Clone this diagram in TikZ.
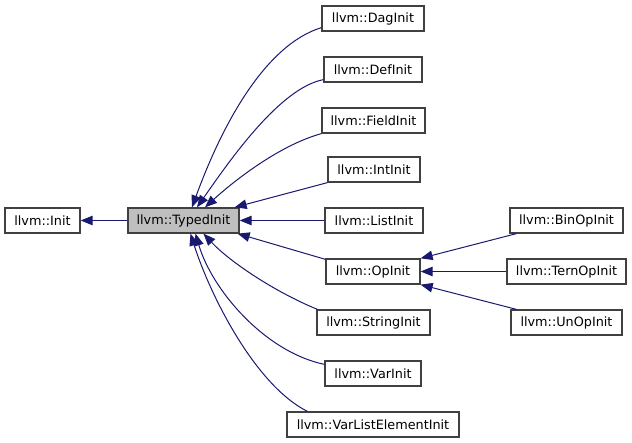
\documentclass[tikz,border=0pt]{standalone}
\usepackage{fontspec}
\setmainfont{DejaVu Sans}
\usetikzlibrary{arrows.meta}
\definecolor{edgeblue}{HTML}{191970}
\definecolor{boxline}{HTML}{404040}
\definecolor{curfill}{HTML}{BFBFBF}
\tikzset{
  cls/.style={draw=boxline, line width=1.3pt, fill=white, minimum height=25pt,
    inner sep=0pt, font=\fontsize{12.8}{15}\selectfont},
  cur/.style={cls, fill=curfill},
  inh/.style={draw=edgeblue, line width=1pt, -{Triangle[length=12pt,width=9.5pt]}}
}
\begin{document}
\begin{tikzpicture}[x=1pt,y=-1pt]
    \useasboundingbox (0,0) rectangle (632,443);

    \node[cls, minimum width=75pt] (init) at (42.5,220.5) {llvm::Init};
    \node[cur, minimum width=111pt] (typed) at (183.5,220.5) {llvm::TypedInit};

    \node[cls, minimum width=102pt] (dag) at (373,18.5) {llvm::DagInit};
    \node[cls, minimum width=98pt] (def) at (373,69.5) {llvm::DefInit};
    \node[cls, minimum width=103pt] (field) at (373.5,120.5) {llvm::FieldInit};
    \node[cls, minimum width=92pt] (int) at (374,169.5) {llvm::IntInit};
    \node[cls, minimum width=98pt] (list) at (374,220.5) {llvm::ListInit};
    \node[cls, minimum width=94pt] (op) at (373,271.5) {llvm::OpInit};
    \node[cls, minimum width=113pt] (string) at (373.5,322.5) {llvm::StringInit};
    \node[cls, minimum width=96pt] (var) at (373,373.5) {llvm::VarInit};
    \node[cls, minimum width=172pt] (varlist) at (373,424.5) {llvm::VarListElementInit};

    \node[cls, minimum width=113pt] (binop) at (566.5,220.5) {llvm::BinOpInit};
    \node[cls, minimum width=119pt] (ternop) at (566.5,271.5) {llvm::TernOpInit};
    \node[cls, minimum width=111pt] (unop) at (566.5,322.5) {llvm::UnOpInit};

    \draw[inh] (typed) -- (init);

    \draw[inh] ([yshift=4pt]dag.south west) .. controls (265,45) and (222,125) .. ([xshift=8.5pt]typed.north);
    \draw[inh] ([yshift=3pt]def.south west) .. controls (280,88) and (230,160) .. ([xshift=13.5pt]typed.north);
    \draw[inh] (field.south west) .. controls (280,145) and (235,180) .. ([xshift=21.5pt]typed.north);
    \draw[inh] (int.south west) -- ([xshift=-5pt]typed.north east);
    \draw[inh] (list) -- (typed);
    \draw[inh] ([yshift=-1pt]op.north west) -- ([xshift=-2pt]typed.south east);
    \draw[inh] ([xshift=1pt]string.north west) .. controls (275,292) and (230,262) .. ([xshift=20pt]typed.south);
    \draw[inh] ([yshift=-4pt]var.north west) .. controls (265,352) and (212,290) .. ([xshift=12pt]typed.south);
    \draw[inh] ([xshift=21pt]varlist.north west) .. controls (255,385) and (210,295) .. ([xshift=7pt]typed.south);

    \draw[inh] ([xshift=7pt]binop.south west) -- (op.north east);
    \draw[inh] (ternop) -- (op);
    \draw[inh] ([xshift=6pt]unop.north west) -- (op.south east);

\end{tikzpicture}
\end{document}
